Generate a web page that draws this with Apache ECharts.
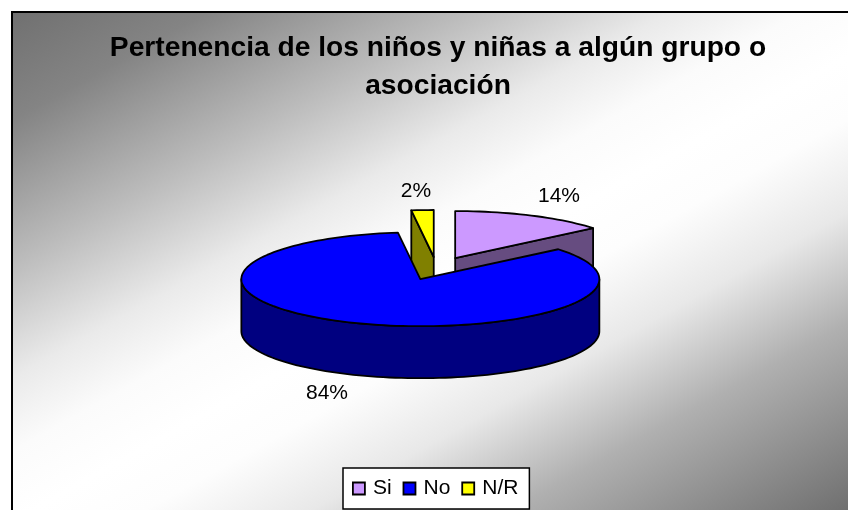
<!DOCTYPE html>
<html><head><meta charset="utf-8">
<style>html,body{margin:0;padding:0;background:#fff}#c{width:848px;height:510px}</style>
<script src="https://cdn.jsdelivr.net/npm/echarts@6/dist/echarts.min.js"></script>
</head><body><div id="c"></div>
<script>
const titleText = 'Pertenencia de los niños y niñas a algún grupo o\nasociación';
const categories = ['Si', 'No', 'N/R'];
const values = [14, 84, 2];
const colors = ['#CC99FF', '#0000FF', '#FFFF00'];
const sideColors = ['#664C80', '#000080', '#808000'];
const labelPos = [[559, 196.5], [327, 393], [416, 191]];
const drawOrder = [2, 4, 3];

const C = {x: 436.5, y: 268.5, rx: 179, ry: 47, depth: 52, explode: 0.245};
const total = values.reduce((a, b) => a + b, 0);
const rad = d => d * Math.PI / 180;

function slice(i) {
  let start = 0;
  for (let k = 0; k < i; k++) start += values[k] / total * 360;
  return {start, end: start + values[i] / total * 360};
}
function arc(cx, cy, a, b) {
  const pts = [], n = Math.max(2, Math.ceil(Math.abs(b - a) / 2));
  for (let j = 0; j <= n; j++) {
    const t = rad(a + (b - a) * j / n);
    pts.push([cx + C.rx * Math.sin(t), cy - C.ry * Math.cos(t)]);
  }
  return pts;
}
const LW = 1.8;
function poly(points, fill) {
  return {type: 'polygon', shape: {points}, style: {fill, stroke: '#000', lineWidth: LW, lineJoin: 'round'}};
}
function renderSlice(params, api) {
  const i = api.value(0);
  const {start, end} = slice(i);
  const mid = rad((start + end) / 2);
  const cx = C.x + C.explode * C.rx * Math.sin(mid);
  const cy = C.y - C.explode * C.ry * Math.cos(mid);
  const top = [[cx, cy]].concat(arc(cx, cy, start, end));
  const down = p => [p[0], p[1] + C.depth];
  const kids = [];
  const face = th => {
    const e = arc(cx, cy, th, th)[0];
    return poly([[cx, cy], e, down(e), [cx, cy + C.depth]], sideColors[i]);
  };
  if (Math.sin(rad(start)) < -1e-6) kids.push(face(start));
  if (Math.sin(rad(end)) > 1e-6) kids.push(face(end));
  const a = Math.max(start, 90), b = Math.min(end, 270);
  if (b > a) {
    const t = arc(cx, cy, a, b);
    kids.push(poly(t.concat(t.slice().reverse().map(down)), sideColors[i]));
  }
  kids.push(poly(top, colors[i]));
  kids.push({type: 'text', silent: true, z2: 10,
    style: {x: labelPos[i][0], y: labelPos[i][1], text: values[i] + '%', fill: '#000',
      font: '21px "Liberation Sans"', align: 'center', verticalAlign: 'middle'}});
  return {type: 'group', children: kids};
}

// diagonal grey-white-grey fill of the chart area
const F = {x: 12, y: 12, w: 836, h: 498};
const nx = 0.486, ny = 0.874, len = nx * F.w + ny * F.h;
const bgStops = [[0, '#707070'], [95, '#848484'], [222, '#bcbcbc'], [320, '#eaeaea'], [384, '#fbfbfb'],
  [445, '#ffffff'], [500, '#fdfdfd'], [581, '#e8e8e8'], [678, '#b0b0b0'], [841, '#707070']];

const chart = echarts.init(document.getElementById('c'), null, {renderer: 'canvas'});
chart.setOption({
  animation: false,
  backgroundColor: '#fff',
  title: {text: titleText, left: 433, top: 24.5, textAlign: 'center',
    textStyle: {fontFamily: 'Liberation Sans', fontWeight: 'bold', fontSize: 28.2, lineHeight: 38, color: '#000'}},
  legend: {
    data: categories, left: 343, top: 468, orient: 'horizontal', icon: 'rect',
    itemWidth: 12, itemHeight: 12, itemGap: 11,
    backgroundColor: '#fff', borderColor: '#000', borderWidth: 1.5, padding: [10, 11, 10, 9],
    itemStyle: {borderColor: '#000', borderWidth: 1.8},
    textStyle: {fontFamily: 'Liberation Sans', fontSize: 21, color: '#000', padding: [0, 0, 0, 3]},
    selectedMode: false
  },
  graphic: [{
    type: 'rect', z: -10, silent: true,
    shape: {x: F.x, y: F.y, width: F.w + 4, height: F.h + 4},
    style: {
      stroke: '#000', lineWidth: 2,
      fill: {type: 'linear', global: true, x: F.x, y: F.y, x2: F.x + len * nx, y2: F.y + len * ny,
        colorStops: bgStops.map(s => ({offset: Math.min(1, s[0] / len), color: s[1]}))}
    }
  }],
  series: categories.map((name, i) => ({
    type: 'custom', name, coordinateSystem: 'none', silent: true, z: drawOrder[i],
    itemStyle: {color: colors[i]},
    data: [[i, values[i]]],
    renderItem: renderSlice
  }))
});
</script></body></html>
